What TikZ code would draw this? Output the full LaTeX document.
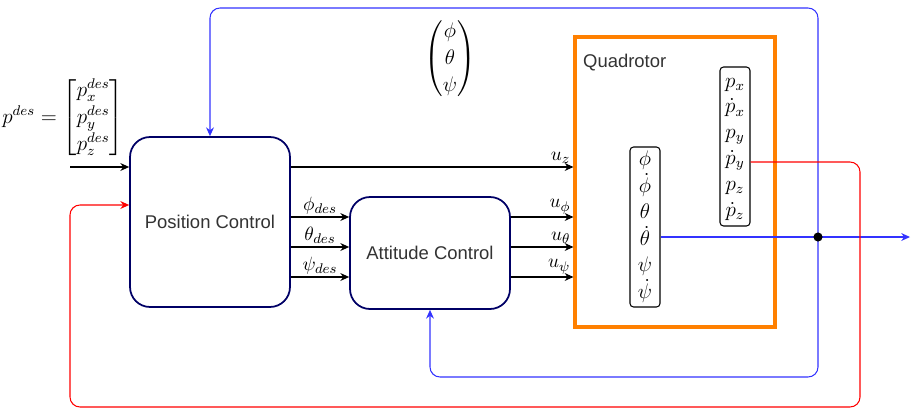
\documentclass[tikz,border=0pt]{standalone}
\usepackage{amsmath}
\usepackage{fontspec}
\setmainfont{Liberation Sans}
\usetikzlibrary{arrows.meta,positioning}

\definecolor{ctrlnavy}{RGB}{0,0,102}
\definecolor{fbblue}{RGB}{51,51,255}
\definecolor{fbred}{RGB}{255,0,0}
\definecolor{quadorange}{RGB}{255,128,0}
\definecolor{txtgray}{RGB}{51,51,51}

\tikzset{
    ctrlbox/.style={draw=ctrlnavy, line width=1pt, rounded corners=0.4cm, fill=white,
        text=txtgray, font=\fontsize{10.5}{12}\selectfont},
    quadbox/.style={draw=quadorange, line width=1.8pt},
    statebox/.style={draw, line width=0.6pt, rounded corners=2pt, inner sep=0pt,
        minimum width=0.6cm, font=\large},
    sig/.style={-{Stealth[length=5pt,width=4.5pt]}, line width=0.6pt},
    fbb/.style={sig, draw=fbblue, rounded corners=0.2cm},
    fbr/.style={sig, draw=fbred, rounded corners=0.2cm},
    lbl/.style={inner sep=1.5pt, font=\fontsize{11}{13}\selectfont}
}

\begin{document}
\begin{tikzpicture}[x=0.02cm, y=-0.02cm]
        \useasboundingbox (0,0) rectangle (919,416);

        \node[quadbox, minimum width=4cm, minimum height=5.8cm] (quad) at (675,182) {};
        \node[anchor=west, text=txtgray, font=\fontsize{10.5}{12}\selectfont] (quadlbl) at (577,63) {Quadrotor};

        \node[ctrlbox, minimum width=3.2cm, minimum height=3.4cm] (pos) at (210,222) {Position Control};
        \node[ctrlbox, minimum width=3.2cm, minimum height=2.24cm] (att) at (430,253) {Attitude Control};

        \node[statebox, minimum height=3.2cm] (ang) at (645,227)
            {$\renewcommand{\arraystretch}{1.05}\begin{array}{@{}c@{}}\phi\\ \dot{\phi}\\ \theta\\ \dot{\theta}\\ \psi\\ \dot{\psi}\end{array}$};
        \node[statebox, minimum height=3.18cm] (lin) at (735,146.5)
            {$\renewcommand{\arraystretch}{1.05}\begin{array}{@{}c@{}}p_x\\ \dot{p}_x\\ p_y\\ \dot{p}_y\\ p_z\\ \dot{p}_z\end{array}$};

        \node[font=\large] (pdes) at (63,118)
            {$p^{des} = \renewcommand{\arraystretch}{1.1}\begin{bmatrix} p_x^{des}\\ p_y^{des}\\ p_z^{des}\end{bmatrix}$};
        \node[font=\large] (euler) at (450,59)
            {$\renewcommand{\arraystretch}{1.1}\begin{pmatrix}\phi\\ \theta\\ \psi\end{pmatrix}$};

        \coordinate (in) at (70,167);
        \coordinate (tap) at (818,237);
        \coordinate (out) at (910,237);

        \draw[sig] (in) -- (pos.west |- in);
        \draw[sig] (pos.east |- 0,167) -- (quad.west |- 0,167) node[lbl, above left] {$u_z$};

        \draw[sig] (pos.east |- 0,217) -- (att.west |- 0,217) node[lbl, midway, above] {$\phi_{des}$};
        \draw[sig] (pos.east |- 0,247) -- (att.west |- 0,247) node[lbl, midway, above] {$\theta_{des}$};
        \draw[sig] (pos.east |- 0,277) -- (att.west |- 0,277) node[lbl, midway, above] {$\psi_{des}$};

        \draw[sig] (att.east |- 0,217) -- (quad.west |- 0,217) node[lbl, above left] {$u_\phi$};
        \draw[sig] (att.east |- 0,247) -- (quad.west |- 0,247) node[lbl, above left] {$u_\theta$};
        \draw[sig] (att.east |- 0,277) -- (quad.west |- 0,277) node[lbl, above left] {$u_\psi$};

        \draw[fbblue, line width=0.6pt] (ang.east |- tap) -- (tap);
        \draw[fbb] (tap) -- (out);
        \draw[fbb] (tap) -- (tap |- 0,8) -| (pos.north);
        \draw[fbb] (tap) -- (tap |- 0,377) -| (att.south);
        \fill (tap) circle (2.6pt);

        \draw[fbr] (lin.east |- 0,162) -| (860,407) -| (70,205) -- (pos.west |- 0,205);

    \end{tikzpicture}
\end{document}
